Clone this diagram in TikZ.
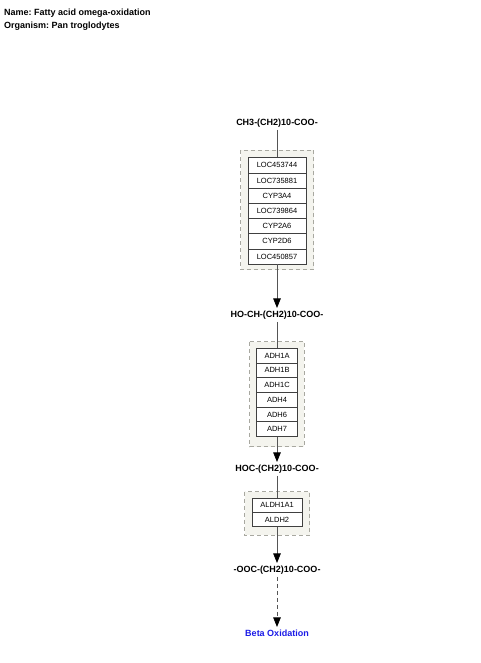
\documentclass[tikz,border=0pt]{standalone}
\usepackage{fontspec}
\setmainfont{Liberation Sans}
\usetikzlibrary{arrows.meta,fit,positioning}
\definecolor{grpfill}{HTML}{F4F4EE}
\definecolor{grpline}{HTML}{A8A8A0}
\definecolor{genelineclr}{HTML}{404040}
\definecolor{connclr}{HTML}{555555}
\definecolor{betablue}{HTML}{1A1AE6}
\frenchspacing
\begin{document}
\begin{tikzpicture}[x=1pt,y=-1pt,
  titletext/.style={anchor=base west,inner sep=0pt,font=\fontsize{9}{10}\selectfont\bfseries},
  compound/.style={anchor=base,inner sep=2.5pt,font=\fontsize{9}{10}\selectfont\bfseries},
  gene/.style={draw=genelineclr,fill=white,inner sep=0pt,outer sep=0pt,line width=0.7pt,
    font=\fontsize{7.5}{8}\selectfont},
  geneA/.style={gene,minimum width=58pt,minimum height=15.2pt},
  geneB/.style={gene,minimum width=40.6pt,minimum height=14.7pt},
  geneC/.style={gene,minimum width=50pt,minimum height=14.2pt},
  grp/.style={draw=grpline,fill=grpfill,dash pattern=on 4pt off 3pt,line width=0.8pt,inner sep=7pt},
  conn/.style={draw=connclr,line width=0.8pt},
  arr/.style={conn,-{Triangle[width=7.5pt,length=9.5pt,color=black,fill=black]}},
  darr/.style={arr,dash pattern=on 4pt off 3pt}
]
\useasboundingbox (0,0) rectangle (480,663);

\node[titletext] (title1) at (4,15.2) {Name: Fatty acid omega-oxidation};
\node[titletext] (title2) at (4,28.2) {Organism: Pan troglodytes};

% compounds
\node[compound] (c1) at (277,125.2) {CH3-(CH2)10-COO-};
\node[compound] (c2) at (277,317.2) {HO-CH-(CH2)10-COO-};
\node[compound] (c3) at (277,471.2) {HOC-(CH2)10-COO-};
\node[compound] (c4) at (277,572.2) {-OOC-(CH2)10-COO-};
\node[compound,text=betablue] (beta) at (277,636.2) {Beta Oxidation};

% gene stack positions
\path (277,165.3) coordinate (g1pos);
\path (277,355.65) coordinate (g2pos);
\path (277,505.4) coordinate (g3pos);

% group backgrounds
\path[grp] (240.5,150) rectangle (313.5,269.5);
\path[grp] (249.5,341.5) rectangle (304,446.5);
\path[grp] (244.5,491.5) rectangle (309.5,535);

% connectors into groups (drawn under the gene boxes)
\coordinate (g1top) at (277,157.7);
\coordinate (g2top) at (277,348.3);
\coordinate (g3top) at (277,498.3);
\draw[conn] (c1.south) -- (g1top);
\draw[conn] (c2.south) -- (g2top);
\draw[conn] (c3.south) -- (g3top);

% group 1
\node[geneA] (g1a) at (g1pos) {LOC453744};
\node[geneA,below=0pt of g1a] (g1b) {LOC735881};
\node[geneA,below=0pt of g1b] (g1c) {CYP3A4};
\node[geneA,below=0pt of g1c] (g1d) {LOC739864};
\node[geneA,below=0pt of g1d] (g1e) {CYP2A6};
\node[geneA,below=0pt of g1e] (g1f) {CYP2D6};
\node[geneA,below=0pt of g1f] (g1g) {LOC450857};

% group 2
\node[geneB] (g2a) at (g2pos) {ADH1A};
\node[geneB,below=0pt of g2a] (g2b) {ADH1B};
\node[geneB,below=0pt of g2b] (g2c) {ADH1C};
\node[geneB,below=0pt of g2c] (g2d) {ADH4};
\node[geneB,below=0pt of g2d] (g2e) {ADH6};
\node[geneB,below=0pt of g2e] (g2f) {ADH7};

% group 3
\node[geneC] (g3a) at (g3pos) {ALDH1A1};
\node[geneC,below=0pt of g3a] (g3b) {ALDH2};

% arrows out of groups
\draw[arr] (g1g.south) -- (c2.north);
\draw[arr] (g2f.south) -- (c3.north);
\draw[arr] (g3b.south) -- (c4.north);
\draw[darr] (c4.south) -- (beta.north);
\end{tikzpicture}
\end{document}
